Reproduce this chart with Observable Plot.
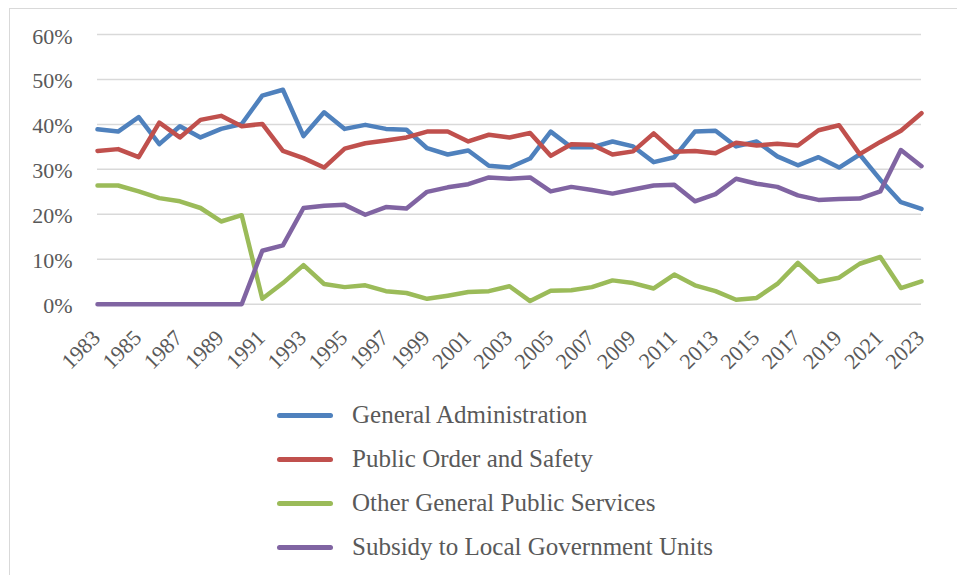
<!DOCTYPE html>
<html>
<head>
<meta charset="utf-8">
<script src="https://cdn.jsdelivr.net/npm/d3@7"></script>
<script src="https://cdn.jsdelivr.net/npm/@observablehq/plot@0.6"></script>
<style>
  html, body { margin: 0; padding: 0; background: #fff; overflow: hidden; }
  #wrap { position: relative; width: 957px; height: 575px; }
  #frame { position: absolute; left: 9px; top: 8px; width: 1200px; height: 1200px; border: 1px solid #d9d9d9; box-sizing: border-box; }
  #chart { position: absolute; left: 0; top: 0; }
  #legend { position: absolute; left: 277px; top: 393px; font-family: "Liberation Serif", serif; font-size: 25px; color: #595959; }
  .row { display: flex; align-items: center; height: 44px; }
  .sw { width: 56px; height: 5px; border-radius: 3px; margin-right: 19px; }
</style>
</head>
<body>
<div id="wrap">
  <div id="frame"></div>
  <div id="chart"></div>
  <div id="legend"></div>
</div>
<script>
const years = d3.range(1983, 2024);
const seriesNames = ["General Administration", "Public Order and Safety", "Other General Public Services", "Subsidy to Local Government Units"];
const seriesColors = ["#4F81BD", "#C0504D", "#9BBB59", "#8064A2"];

const generalAdministration = [
  38.9, 38.4, 41.6, 35.6, 39.6, 37.1, 39.0, 40.1, 46.4, 47.7,
  37.4, 42.7, 39.0, 39.9, 39.0, 38.8, 34.7, 33.3, 34.2, 30.8,
  30.4, 32.4, 38.4, 34.9, 34.9, 36.2, 35.1, 31.6, 32.7, 38.4,
  38.6, 35.1, 36.2, 32.9, 30.9, 32.7, 30.4, 33.3, 27.7, 22.7,
  21.2
];
const publicOrderSafety = [
  34.1, 34.5, 32.7, 40.4, 37.1, 41.0, 41.9, 39.6, 40.1, 34.1,
  32.5, 30.4, 34.6, 35.8, 36.4, 37.1, 38.4, 38.4, 36.2, 37.7,
  37.1, 38.1, 33.0, 35.6, 35.5, 33.3, 34.0, 38.0, 33.9, 34.1,
  33.6, 35.9, 35.3, 35.7, 35.3, 38.7, 39.8, 33.4, 36.1, 38.6,
  42.5
];
const otherGeneralPublicServices = [
  26.4, 26.4, 25.1, 23.6, 22.9, 21.4, 18.4, 19.8, 1.2, 4.7,
  8.7, 4.5, 3.8, 4.2, 2.9, 2.5, 1.2, 1.9, 2.7, 2.9,
  4.0, 0.7, 3.0, 3.1, 3.8, 5.3, 4.7, 3.5, 6.6, 4.2,
  2.9, 1.0, 1.4, 4.5, 9.2, 5.0, 5.9, 9.0, 10.5, 3.6,
  5.1
];
const subsidyLocalGov = [
  0, 0, 0, 0, 0, 0, 0, 0, 11.9, 13.1,
  21.4, 21.9, 22.1, 19.9, 21.6, 21.3, 25.0, 26.0, 26.7, 28.2,
  27.9, 28.2, 25.1, 26.1, 25.4, 24.6, 25.5, 26.4, 26.6, 22.9,
  24.5, 27.9, 26.8, 26.1, 24.2, 23.2, 23.4, 23.5, 25.1, 34.3,
  30.7
];
const yTicks = [0, 10, 20, 30, 40, 50, 60];
const xTickYears = d3.range(1983, 2024, 2);

const allSeries = [generalAdministration, publicOrderSafety, otherGeneralPublicServices, subsidyLocalGov];
const rows = [];
allSeries.forEach((vals, si) => {
  vals.forEach((v, i) => rows.push({ series: seriesNames[si], year: years[i], value: v }));
});

const chart = Plot.plot({
  width: 957,
  height: 390,
  marginLeft: 97,
  marginRight: 36,
  marginTop: 34,
  marginBottom: 86.3,
  style: { fontFamily: "Liberation Serif, serif", fontSize: "22px", color: "#595959", background: "transparent" },
  x: { type: "linear", domain: [1983, 2023], axis: null },
  y: { domain: [0, 60], axis: null },
  color: { domain: seriesNames, range: seriesColors },
  marks: [
    Plot.ruleY(yTicks, { y: d => d, stroke: "#d9d9d9", strokeWidth: 1.5 }),
    Plot.axisY(yTicks, { tickSize: 0, tickPadding: 25, tickFormat: d => d + "%", dy: 2, label: null, fill: "#595959", fontSize: 22 }),
    Plot.text(xTickYears, {
      x: d => d, frameAnchor: "bottom", text: d => String(d),
      rotate: -45, textAnchor: "end", dx: 4, dy: 35, fill: "#595959", fontSize: 22
    }),
    Plot.lineY(rows, {
      x: "year", y: "value", z: "series", stroke: "series",
      strokeWidth: 4.5, strokeLinejoin: "round", strokeLinecap: "round"
    })
  ]
});
document.getElementById("chart").appendChild(chart);

const legend = document.getElementById("legend");
seriesNames.forEach((name, i) => {
  const row = document.createElement("div");
  row.className = "row";
  const sw = document.createElement("div");
  sw.className = "sw";
  sw.style.background = seriesColors[i];
  const label = document.createElement("span");
  label.textContent = name;
  row.appendChild(sw);
  row.appendChild(label);
  legend.appendChild(row);
});
</script>
</body>
</html>
